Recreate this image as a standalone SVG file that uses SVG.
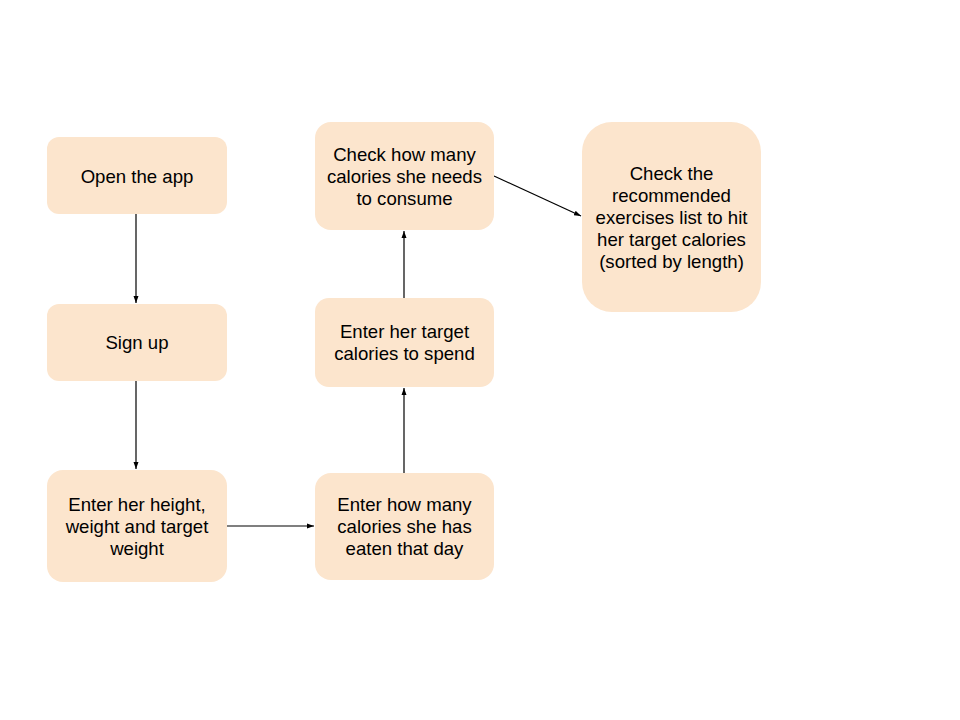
<svg xmlns="http://www.w3.org/2000/svg" width="960" height="720" viewBox="0 0 960 720">
<defs>
<style>
.n{fill:#fce5cd;stroke:none}
.t{font-family:"Liberation Sans",Arial,sans-serif;font-size:18.6px;fill:#000;text-anchor:middle}
.c{stroke:#000;stroke-width:1.2;fill:none;marker-end:url(#ah)}
</style>
<marker id="ah" markerWidth="8" markerHeight="8" refX="7" refY="4" orient="auto" markerUnits="userSpaceOnUse">
<path d="M0,1.5 L7,4 L0,6.5 Z" fill="#000"/>
</marker>
</defs>
<rect width="960" height="720" fill="#fff"/>
<g id="connectors">
<line class="c" x1="136" y1="214" x2="136" y2="303"/>
<line class="c" x1="136" y1="381" x2="136" y2="469"/>
<line class="c" x1="227" y1="526" x2="314" y2="526"/>
<line class="c" x1="404" y1="473" x2="404" y2="388"/>
<line class="c" x1="404" y1="298" x2="404" y2="231"/>
<line class="c" x1="494" y1="176" x2="581" y2="216"/>
</g>
<g id="n1">
<rect class="n" x="47" y="137" width="180" height="77" rx="12"/>
<text class="t" x="137" y="183">Open the app</text>
</g>
<g id="n2">
<rect class="n" x="47" y="304" width="180" height="77" rx="12"/>
<text class="t" x="137" y="349">Sign up</text>
</g>
<g id="n3">
<rect class="n" x="47" y="470" width="180" height="112" rx="16"/>
<text class="t" x="137" y="511">Enter her height,</text>
<text class="t" x="137" y="533">weight and target</text>
<text class="t" x="137" y="555">weight</text>
</g>
<g id="n4">
<rect class="n" x="315" y="473" width="179" height="107" rx="16"/>
<text class="t" x="404.5" y="511">Enter how many</text>
<text class="t" x="404.5" y="533">calories she has</text>
<text class="t" x="404.5" y="555">eaten that day</text>
</g>
<g id="n5">
<rect class="n" x="315" y="298" width="179" height="89" rx="14"/>
<text class="t" x="404.5" y="338">Enter her target</text>
<text class="t" x="404.5" y="360">calories to spend</text>
</g>
<g id="n6">
<rect class="n" x="315" y="122" width="179" height="108" rx="16"/>
<text class="t" x="404.5" y="161">Check how many</text>
<text class="t" x="404.5" y="183">calories she needs</text>
<text class="t" x="404.5" y="205">to consume</text>
</g>
<g id="n7">
<rect class="n" x="582" y="122" width="179" height="190" rx="30"/>
<text class="t" x="671.5" y="180">Check the</text>
<text class="t" x="671.5" y="202">recommended</text>
<text class="t" x="671.5" y="224">exercises list to hit</text>
<text class="t" x="671.5" y="246">her target calories</text>
<text class="t" x="671.5" y="268">(sorted by length)</text>
</g>
</svg>
